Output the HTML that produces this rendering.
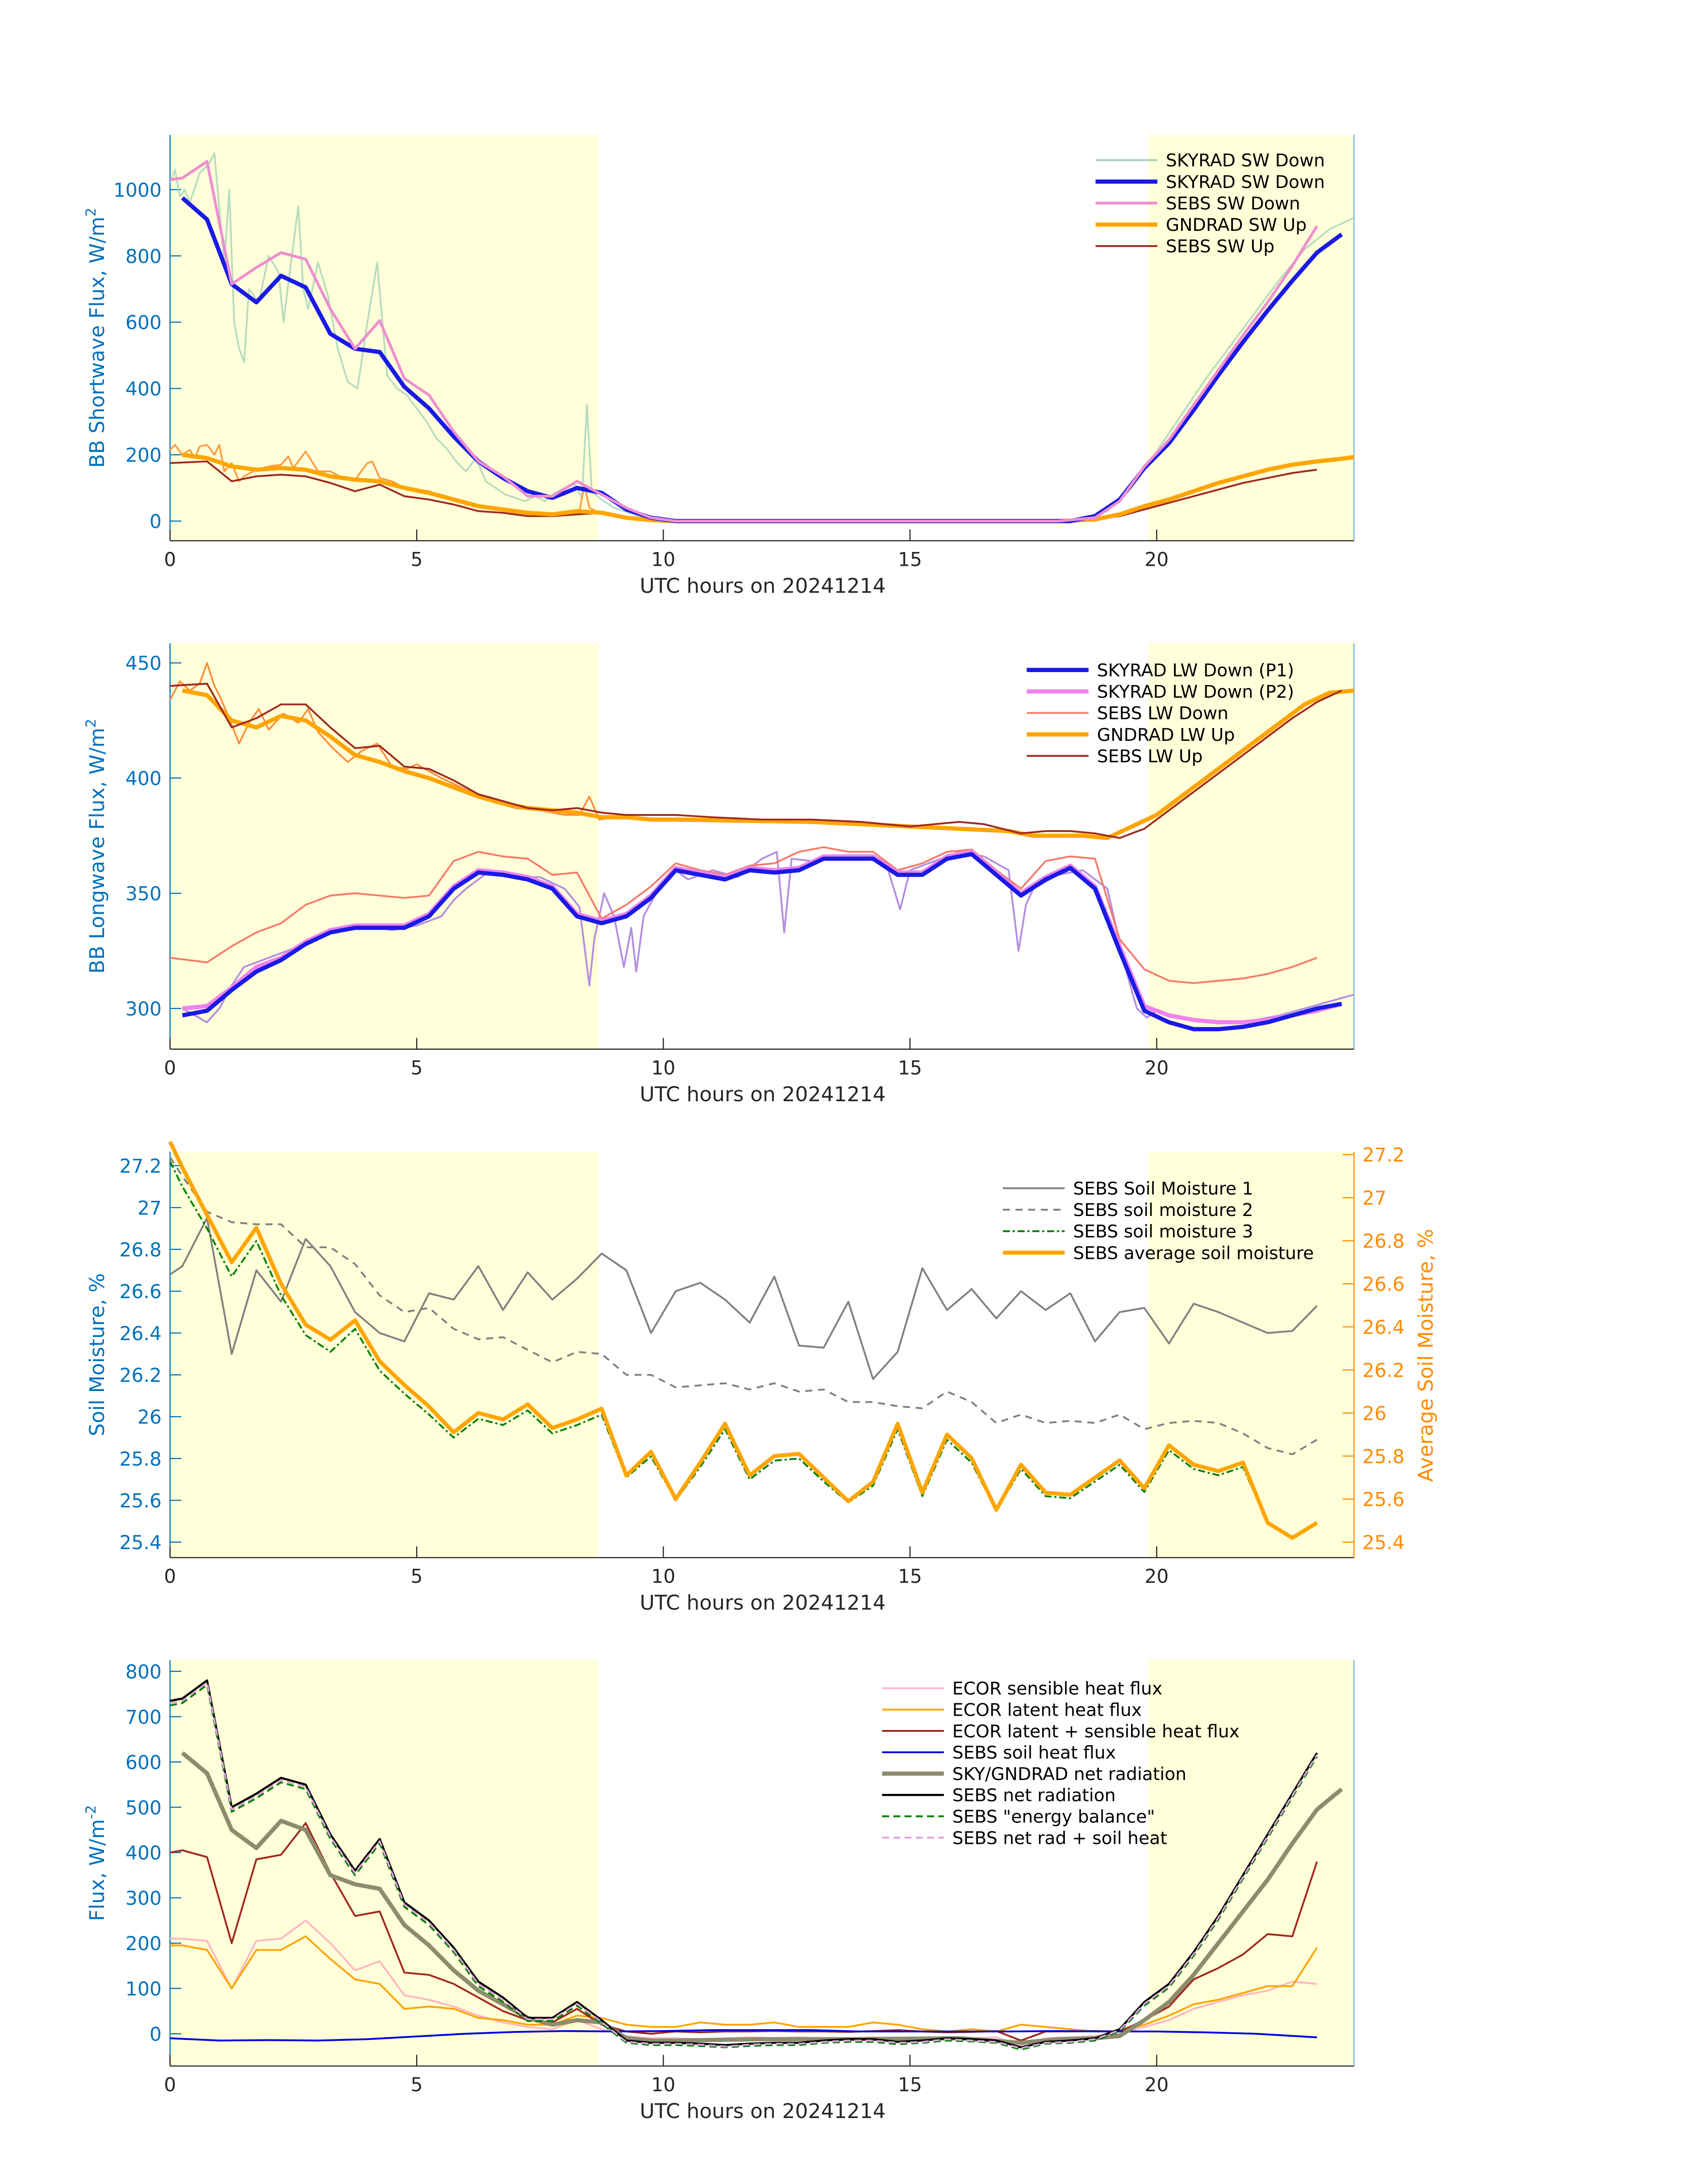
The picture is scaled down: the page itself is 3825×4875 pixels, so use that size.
<!DOCTYPE html>
<html><head><meta charset="utf-8">
<style>
html,body{margin:0;padding:0;background:#fff;}
svg{display:block;font-family:"DejaVu Sans","Liberation Sans",sans-serif;}
</style></head>
<body>
<svg id="fig" width="3825" height="4875" viewBox="0 0 1216 1550" xmlns="http://www.w3.org/2000/svg"></svg>
<script>
// ---------- Panel 1 data (shortwave) ----------
const swT = [0.25,0.75,1.25,1.75,2.25,2.75,3.25,3.75,4.25,4.75,5.25,5.75,6.25,6.75,7.25,7.75,8.25,8.75,9.25,9.75,10.25,11.25,12.25,13.25,14.25,15.25,16.25,17.25,18.25,18.75,19.25,19.75,20.25,20.75,21.25,21.75,22.25,22.75,23.25,23.75];
const skySwDown = [975,910,715,660,740,705,565,520,510,405,340,255,180,130,90,70,100,85,35,10,0,0,0,0,0,0,0,0,0,15,65,160,235,335,440,540,635,725,810,865];
const sebsSwDownT = [0,0.25,0.75,1.25,1.75,2.25,2.75,3.25,3.75,4.25,4.75,5.25,5.75,6.25,6.75,7.25,7.75,8.25,8.75,9.25,9.75,10.25,12,14,16,18,18.75,19.25,19.75,20.25,20.75,21.25,21.75,22.25,22.75,23.25];
const sebsSwDown = [1030,1035,1085,715,765,810,790,640,520,605,430,380,270,180,135,75,75,120,80,40,10,0,0,0,0,0,10,60,165,245,350,455,560,660,770,890];
const gndSwUpT = [0.25,0.75,1.25,1.75,2.25,2.75,3.25,3.75,4.25,4.75,5.25,5.75,6.25,6.75,7.25,7.75,8.25,8.75,9.25,9.75,10.25,12,14,16,18,18.75,19.25,19.75,20.25,20.75,21.25,21.75,22.25,22.75,23.25,23.75,24];
const gndSwUp = [200,190,165,155,160,155,135,125,120,100,85,65,45,35,25,20,30,25,10,3,0,0,0,0,0,5,20,45,65,90,115,135,155,170,180,188,193];
const sebsSwUpT = [0,0.75,1.25,1.75,2.25,2.75,3.25,3.75,4.25,4.75,5.25,5.75,6.25,6.75,7.25,7.75,8.25,8.75,9.25,9.75,10.25,12,14,16,18,18.75,19.25,19.75,20.25,20.75,21.25,21.75,22.25,22.75,23.25];
const sebsSwUp = [175,180,120,135,140,135,115,90,110,75,65,50,30,25,15,15,20,25,10,3,0,0,0,0,0,5,15,35,55,75,95,115,130,145,155];
const skySwFineT = [0,0.1,0.2,0.3,0.4,0.6,0.8,0.9,1.0,1.1,1.2,1.3,1.4,1.5,1.6,1.8,2.0,2.2,2.3,2.4,2.6,2.7,2.8,3.0,3.2,3.4,3.6,3.8,4.0,4.2,4.4,4.6,4.8,5.0,5.2,5.4,5.6,5.8,6.0,6.2,6.4,6.6,6.8,7.0,7.2,7.4,7.6,7.8,8.0,8.2,8.35,8.45,8.55,8.7,9.0,9.5,10,12,14,16,18,18.5,19,19.5,20,20.5,21,21.5,22,22.5,23,23.5,24];
const skySwFine = [1020,1060,980,1000,960,1050,1080,1110,940,780,1000,600,520,480,700,660,800,750,600,720,950,700,640,780,680,520,420,400,600,780,440,400,380,340,300,250,220,180,150,190,120,100,80,70,60,75,60,85,100,110,70,350,90,70,40,15,2,0,0,0,0,5,30,100,210,320,430,530,630,730,820,880,915];
const gndSwFineT = [0,0.1,0.25,0.4,0.5,0.6,0.75,0.9,1.0,1.1,1.25,1.4,1.5,1.75,2.0,2.25,2.4,2.5,2.75,3.0,3.25,3.5,3.75,4.0,4.1,4.25,4.5,4.75,5.0,5.25,5.5,5.75,6.0,6.5,7.0,7.5,8.0,8.3,8.4,8.5,8.7,9.0,9.5,10];
const gndSwFine = [215,230,200,215,190,225,230,200,230,150,175,120,135,155,165,170,195,160,210,150,150,130,125,175,180,130,120,100,95,90,75,65,50,40,25,20,22,30,110,40,25,15,5,0];

// ---------- Panel 2 data (longwave) ----------
const lwT = [0.25,0.75,1.25,1.75,2.25,2.75,3.25,3.75,4.25,4.75,5.25,5.75,6.25,6.75,7.25,7.75,8.25,8.75,9.25,9.75,10.25,10.75,11.25,11.75,12.25,12.75,13.25,13.75,14.25,14.75,15.25,15.75,16.25,16.75,17.25,17.75,18.25,18.75,19.25,19.75,20.25,20.75,21.25,21.75,22.25,22.75,23.25,23.75];
const skyLwP1 = [297,299,308,316,321,328,333,335,335,335,340,352,359,358,356,352,340,337,340,348,360,358,356,360,359,360,365,365,365,358,358,365,367,358,349,356,361,352,325,299,294,291,291,292,294,297,300,302];
const skyLwP2 = [300,301,309,318,322,329,334,336,336,336,341,353,360,359,357,353,341,338,341,349,361,359,357,361,360,361,366,366,366,359,359,366,368,359,350,357,362,353,327,301,297,295,294,294,295,297,299,302];
const sebsLwDownT = [0,0.75,1.25,1.75,2.25,2.75,3.25,3.75,4.25,4.75,5.25,5.75,6.25,6.75,7.25,7.75,8.25,8.75,9.25,9.75,10.25,10.75,11.25,11.75,12.25,12.75,13.25,13.75,14.25,14.75,15.25,15.75,16.25,16.75,17.25,17.75,18.25,18.75,19.25,19.75,20.25,20.75,21.25,21.75,22.25,22.75,23.25];
const sebsLwDown = [322,320,327,333,337,345,349,350,349,348,349,364,368,366,365,358,359,339,345,353,363,360,358,362,363,368,370,368,368,360,363,368,369,360,352,364,366,365,330,317,312,311,312,313,315,318,322];
const gndLwUpT = [0.25,0.75,1.25,1.75,2.25,2.75,3.25,3.75,4.25,4.75,5.25,5.75,6.25,6.75,7.25,7.75,8.25,8.75,9.25,9.75,10.25,13,15,16,17,17.5,18,18.5,19,19.5,20,20.5,21,21.5,22,22.5,23,23.5,24];
const gndLwUp = [438,436,425,422,427,425,418,410,407,403,400,396,392,389,387,386,385,383,383,382,382,381,379,378,377,375,375,375,374,379,384,392,400,408,416,424,432,437,438];
const sebsLwUpT = [0,0.75,1.25,1.75,2.25,2.75,3.25,3.75,4.25,4.75,5.25,5.75,6.25,6.75,7.25,7.75,8.25,8.75,9.25,9.75,10.25,11,12,13,14,15,16,16.5,17.25,17.75,18.25,18.75,19.25,19.75,20.25,20.75,21.25,21.75,22.25,22.75,23.25,23.75];
const sebsLwUp = [440,441,422,426,432,432,422,413,414,405,404,399,393,390,387,386,387,385,384,384,384,383,382,382,381,379,381,380,376,377,377,376,374,378,386,394,402,410,418,426,433,438];
const lwFineT = [0.25,0.5,0.75,1.0,1.25,1.5,1.75,2.0,2.5,3.0,3.5,4.0,4.5,5.0,5.5,5.75,6.0,6.5,7.0,7.5,8.0,8.3,8.5,8.6,8.8,9.0,9.2,9.35,9.45,9.6,9.8,10.0,10.25,10.5,11.0,11.5,12.0,12.3,12.45,12.6,13.0,13.5,14.0,14.5,14.8,15.0,15.5,16.0,16.5,17.0,17.2,17.35,17.5,18.0,18.5,19.0,19.4,19.6,19.8,20.0,20.5,21,21.5,22,22.5,23,23.5,24];
const lwFine = [300,297,294,300,310,318,320,322,326,332,335,336,334,336,340,347,352,360,357,357,352,344,310,330,350,340,318,335,316,340,348,355,360,356,360,357,365,368,333,365,364,366,365,364,343,360,364,368,366,360,325,345,352,358,360,352,315,300,296,299,296,294,294,295,297,300,303,306];
const lwUpFineT = [0,0.2,0.4,0.6,0.75,0.9,1.0,1.2,1.4,1.6,1.8,2.0,2.3,2.6,2.8,3.0,3.3,3.6,3.9,4.2,4.5,4.8,5.0,5.5,6,6.5,7,7.5,8,8.3,8.5,8.7,9.0];
const lwUpFine = [434,442,438,441,450,440,436,426,415,424,430,421,428,424,430,420,413,407,412,415,405,404,406,400,395,390,387,386,384,384,392,382,383];

// ---------- Panel 3 data (soil moisture) ----------
const smT = [0,0.25,0.75,1.25,1.75,2.25,2.75,3.25,3.75,4.25,4.75,5.25,5.75,6.25,6.75,7.25,7.75,8.25,8.75,9.25,9.75,10.25,10.75,11.25,11.75,12.25,12.75,13.25,13.75,14.25,14.75,15.25,15.75,16.25,16.75,17.25,17.75,18.25,18.75,19.25,19.75,20.25,20.75,21.25,21.75,22.25,22.75,23.25];
const sm1 = [26.68,26.72,26.95,26.3,26.7,26.55,26.85,26.72,26.5,26.4,26.36,26.59,26.56,26.72,26.51,26.69,26.56,26.66,26.78,26.7,26.4,26.6,26.64,26.56,26.45,26.67,26.34,26.33,26.55,26.18,26.31,26.71,26.51,26.61,26.47,26.6,26.51,26.59,26.36,26.5,26.52,26.35,26.54,26.5,26.45,26.4,26.41,26.53];
const sm2 = [27.24,27.15,26.98,26.93,26.92,26.92,26.81,26.81,26.73,26.58,26.5,26.52,26.42,26.37,26.38,26.32,26.26,26.31,26.3,26.2,26.2,26.14,26.15,26.16,26.13,26.16,26.12,26.13,26.07,26.07,26.05,26.04,26.12,26.07,25.97,26.01,25.97,25.98,25.97,26.01,25.94,25.97,25.98,25.97,25.92,25.85,25.82,25.89];
const sm3 = [27.22,27.1,26.9,26.67,26.84,26.58,26.39,26.31,26.42,26.22,26.11,26.01,25.9,25.99,25.96,26.03,25.92,25.96,26.01,25.71,25.81,25.6,25.76,25.94,25.7,25.79,25.8,25.69,25.59,25.67,25.94,25.62,25.89,25.78,25.55,25.75,25.62,25.61,25.69,25.77,25.64,25.84,25.75,25.72,25.76,25.49,25.42,25.49];
const smAvg = [27.26,27.14,26.92,26.7,26.86,26.6,26.41,26.34,26.43,26.24,26.13,26.03,25.91,26.0,25.97,26.04,25.93,25.97,26.02,25.71,25.82,25.6,25.77,25.95,25.71,25.8,25.81,25.7,25.59,25.68,25.95,25.63,25.9,25.79,25.55,25.76,25.63,25.62,25.7,25.78,25.65,25.85,25.76,25.73,25.77,25.49,25.42,25.49];

// ---------- Panel 4 data (fluxes) ----------
const fT = [0,0.25,0.75,1.25,1.75,2.25,2.75,3.25,3.75,4.25,4.75,5.25,5.75,6.25,6.75,7.25,7.75,8.25,8.75,9.25,9.75,10.25,10.75,11.25,11.75,12.25,12.75,13.25,13.75,14.25,14.75,15.25,15.75,16.25,16.75,17.25,17.75,18.25,18.75,19.25,19.75,20.25,20.75,21.25,21.75,22.25,22.75,23.25];
const sebsNet = [735,740,780,500,530,565,550,440,360,430,290,250,190,115,80,35,35,70,30,-15,-20,-20,-22,-25,-22,-20,-20,-15,-12,-12,-18,-15,-10,-12,-15,-30,-18,-15,-10,10,70,110,180,260,350,440,530,620];
const sebsEB = [725,730,770,490,520,555,540,430,350,420,280,240,180,105,70,28,28,62,22,-20,-25,-25,-27,-30,-27,-25,-25,-20,-18,-18,-23,-20,-15,-17,-20,-35,-22,-20,-15,5,62,102,172,252,342,432,522,612];
const sebsNetSoil = [730,735,775,495,525,560,545,435,355,425,285,245,185,110,75,32,32,66,26,-18,-22,-22,-24,-28,-24,-22,-22,-18,-15,-15,-20,-18,-12,-15,-18,-32,-20,-18,-12,8,66,106,176,256,346,436,526,616];
const skyNetT = [0.25,0.75,1.25,1.75,2.25,2.75,3.25,3.75,4.25,4.75,5.25,5.75,6.25,6.75,7.25,7.75,8.25,8.75,9.25,9.75,10.25,12,14,16,17.25,18,18.75,19.25,19.75,20.25,20.75,21.25,21.75,22.25,22.75,23.25,23.75];
const skyNet = [620,575,450,410,470,450,350,330,320,240,195,140,95,65,35,20,30,25,-10,-15,-15,-12,-12,-10,-20,-12,-10,-5,30,70,130,200,270,340,420,495,540];
const ecorSum = [400,405,390,200,385,395,465,355,260,270,135,130,110,80,50,30,25,55,20,5,0,5,3,5,5,6,5,5,4,6,8,5,3,4,6,-15,5,5,6,5,30,60,120,145,175,220,215,380];
const ecorSens = [210,210,205,100,205,210,250,200,140,160,85,75,60,40,25,15,10,30,10,-5,-10,-10,-12,-10,-8,-10,-8,-10,-10,-8,-10,-10,-12,-10,-8,-25,-10,-8,-5,0,15,30,55,70,85,95,115,110];
const ecorLat = [195,195,185,100,185,185,215,165,120,110,55,60,55,35,30,20,20,40,35,20,15,15,25,20,20,25,15,15,15,25,20,10,5,10,5,20,15,10,5,5,20,40,65,75,90,105,105,190];
const soilHeatT = [0,1,2,3,4,5,6,7,8,9,10,11,12,13,14,15,16,17,18,19,20,21,22,23.25];
const soilHeat = [-10,-15,-14,-15,-12,-6,0,4,6,5,6,8,8,8,5,5,5,5,6,5,5,3,0,-8];

// ---------- tick arrays ----------
const xTicks = [0,5,10,15,20];
const swTicks = [0,200,400,600,800,1000];
const lwTicks = [300,350,400,450];
const smTicks = [25.4,25.6,25.8,26,26.2,26.4,26.6,26.8,27,27.2];
const smTickLabels = ['25.4','25.6','25.8','26','26.2','26.4','26.6','26.8','27','27.2'];
const fluxTicks = [0,100,200,300,400,500,600,700,800];

const NS = 'http://www.w3.org/2000/svg';
const svg = document.getElementById('fig');
const X0 = 121, X1 = 964;
const xs = t => X0 + (X1 - X0) * t / 24;
const BLUE = '#0072BD';

function mk(tag, attrs, parent) {
  const e = document.createElementNS(NS, tag);
  for (const k in attrs) e.setAttribute(k, attrs[k]);
  (parent || svg).appendChild(e);
  return e;
}
function txt(s, attrs, parent) { const e = mk('text', attrs, parent); e.textContent = s; return e; }

function line(g, T, V, ys, style, name) {
  let d = '';
  for (let i = 0; i < T.length; i++) d += (i ? 'L' : 'M') + xs(T[i]).toFixed(2) + ',' + ys(V[i]).toFixed(2);
  const p = mk('path', Object.assign({ d: d, fill: 'none', 'stroke-linejoin': 'round' }, style), g);
  
  
  return p;
}

function panel(name, top, bot, ys, yTicks, yLabels, yTitle, rightColor) {
  const g = mk('g', {});
  
  
  const sh1 = mk('rect', { x: xs(0), y: top, width: xs(8.68) - xs(0), height: bot - top, fill: '#FFFFD9' }, g);
  
  
  const sh2 = mk('rect', { x: xs(19.83), y: top, width: xs(24) - xs(19.83), height: bot - top, fill: '#FFFFD9' }, g);
  
  
  // y axis
  const ya = mk('line', { x1: X0, y1: top, x2: X0, y2: bot, stroke: BLUE, 'stroke-width': 0.8 }, g);
  
  
  const ra = mk('line', { x1: X1, y1: top, x2: X1, y2: bot, stroke: rightColor || '#6FB3DE', 'stroke-width': 0.8 }, g);
  
  
  const xa = mk('line', { x1: X0, y1: bot, x2: X1, y2: bot, stroke: '#262626', 'stroke-width': 0.8 }, g);
  
  
  yTicks.forEach((v, i) => {
    const y = ys(v);
    mk('line', { x1: X0, y1: y, x2: X0 + 8, y2: y, stroke: BLUE, 'stroke-width': 0.8 }, g);
    const t = txt(yLabels[i], { x: X0 - 6, y: y + 5, 'text-anchor': 'end', 'font-size': 13.5, fill: BLUE }, g);
    
    
  });
  xTicks.forEach(v => {
    const x = xs(v);
    mk('line', { x1: x, y1: bot, x2: x, y2: bot - 8, stroke: '#262626', 'stroke-width': 0.8 }, g);
    const t = txt(String(v), { x: x, y: bot + 18, 'text-anchor': 'middle', 'font-size': 13.5, fill: '#262626' }, g);
    
    
  });
  const xt = txt('UTC hours on 20241214', { x: 543, y: bot + 37, 'text-anchor': 'middle', 'font-size': 14.5, fill: '#262626' }, g);
  
  
  const cy = (top + bot) / 2;
  const yt = mk('text', { x: 0, y: 0, transform: `translate(74,${cy}) rotate(-90)`, 'text-anchor': 'middle', 'font-size': 14.5, fill: BLUE }, g);
  yt.innerHTML = yTitle;
  
  
  return g;
}

function legend(g, x, y, items, dy) {
  const lg = mk('g', {}, g);
  
  
  items.forEach((it, i) => {
    const yy = y + i * dy;
    const ln = mk('line', Object.assign({ x1: x, y1: yy, x2: x + 44, y2: yy }, it.style), lg);
    
    
    const t = txt(it.label, { x: x + 50, y: yy + 4.5, 'font-size': 12.5, fill: '#000' }, lg);
    
    
  });
}

// ===== Panel 1 =====
{
  const ys = v => 371 - v * 0.236;
  const g = panel('shortwave-panel', 96, 385, ys, swTicks, swTicks.map(String), 'BB Shortwave Flux, W/m<tspan dy="-6" font-size="10">2</tspan>');
  line(g, skySwFine, [], ys, {}, 'x'); g.lastChild.remove();
  line(g, skySwFineT, skySwFine, ys, { stroke: '#A8D5BA', 'stroke-width': 1.2, opacity: 0.85 }, 'skyrad-sw-down-1min');
  line(g, gndSwFineT, gndSwFine, ys, { stroke: '#FF9A3C', 'stroke-width': 1.2 }, 'gndrad-sw-up-1min');
  line(g, sebsSwUpT, sebsSwUp, ys, { stroke: '#A0281E', 'stroke-width': 1.3 }, 'sebs-sw-up');
  line(g, gndSwUpT, gndSwUp, ys, { stroke: '#FFA500', 'stroke-width': 3 }, 'gndrad-sw-up');
  line(g, swT, skySwDown, ys, { stroke: '#1A1AE6', 'stroke-width': 3 }, 'skyrad-sw-down');
  line(g, sebsSwDownT, sebsSwDown, ys, { stroke: '#EE8FD0', 'stroke-width': 2 }, 'sebs-sw-down');
  legend(g, 780, 114, [
    { label: 'SKYRAD SW Down', style: { stroke: '#A8D5BA', 'stroke-width': 1.5 } },
    { label: 'SKYRAD SW Down', style: { stroke: '#1A1AE6', 'stroke-width': 3 } },
    { label: 'SEBS SW Down', style: { stroke: '#EE8FD0', 'stroke-width': 2 } },
    { label: 'GNDRAD SW Up', style: { stroke: '#FFA500', 'stroke-width': 3 } },
    { label: 'SEBS SW Up', style: { stroke: '#A0281E', 'stroke-width': 1.3 } }
  ], 15.3);
}
// ===== Panel 2 =====
{
  const ys = v => 718 - (v - 300) * 1.64;
  const g = panel('longwave-panel', 458, 747, ys, lwTicks, lwTicks.map(String), 'BB Longwave Flux, W/m<tspan dy="-6" font-size="10">2</tspan>');
  line(g, lwFineT, lwFine, ys, { stroke: '#B48FE0', 'stroke-width': 1.3 }, 'skyrad-lw-down-1min');
  line(g, lwUpFineT, lwUpFine, ys, { stroke: '#FF8C3A', 'stroke-width': 1.2 }, 'gndrad-lw-up-1min');
  line(g, sebsLwDownT, sebsLwDown, ys, { stroke: '#F77B6A', 'stroke-width': 1.3 }, 'sebs-lw-down');
  line(g, gndLwUpT, gndLwUp, ys, { stroke: '#FFA500', 'stroke-width': 3 }, 'gndrad-lw-up');
  line(g, sebsLwUpT, sebsLwUp, ys, { stroke: '#A0281E', 'stroke-width': 1.3 }, 'sebs-lw-up');
  line(g, lwT, skyLwP2, ys, { stroke: '#EE82EE', 'stroke-width': 3 }, 'skyrad-lw-down-p2');
  line(g, lwT, skyLwP1, ys, { stroke: '#1A1AE6', 'stroke-width': 3 }, 'skyrad-lw-down-p1');
  legend(g, 731, 477, [
    { label: 'SKYRAD LW Down (P1)', style: { stroke: '#1A1AE6', 'stroke-width': 3 } },
    { label: 'SKYRAD LW Down (P2)', style: { stroke: '#EE82EE', 'stroke-width': 3 } },
    { label: 'SEBS LW Down', style: { stroke: '#F77B6A', 'stroke-width': 1.3 } },
    { label: 'GNDRAD LW Up', style: { stroke: '#FFA500', 'stroke-width': 3 } },
    { label: 'SEBS LW Up', style: { stroke: '#A0281E', 'stroke-width': 1.3 } }
  ], 15.3);
}
// ===== Panel 3 =====
{
  const ys = v => 1098 - (v - 25.4) * 148.9;
  const yr = v => 1098 - (v - 25.4) * 153.3;
  const ORG = '#FF8C00';
  const g = panel('soil-moisture-panel', 820, 1109, ys, smTicks, smTickLabels, 'Soil Moisture, %', ORG);
  smTicks.forEach((v, i) => {
    const y = yr(v);
    mk('line', { x1: X1 - 8, y1: y, x2: X1, y2: y, stroke: ORG, 'stroke-width': 0.8 }, g);
    const t = txt(smTickLabels[i], { x: X1 + 6, y: y + 5, 'font-size': 13.5, fill: ORG }, g);
    
    
  });
  const rt = txt('Average Soil Moisture, %', { x: 0, y: 0, transform: 'translate(1020,965) rotate(-90)', 'text-anchor': 'middle', 'font-size': 14.5, fill: ORG }, g);
  
  
  line(g, smT, sm1, ys, { stroke: '#808080', 'stroke-width': 1.3 }, 'sebs-soil-moisture-1');
  line(g, smT, sm2, ys, { stroke: '#808080', 'stroke-width': 1.3, 'stroke-dasharray': '5,4' }, 'sebs-soil-moisture-2');
  line(g, smT, sm3, ys, { stroke: '#008000', 'stroke-width': 1.3, 'stroke-dasharray': '5,2,1.5,2' }, 'sebs-soil-moisture-3');
  line(g, smT, smAvg, yr, { stroke: '#FFA500', 'stroke-width': 2.8 }, 'sebs-average-soil-moisture');
  legend(g, 714, 846, [
    { label: 'SEBS Soil Moisture 1', style: { stroke: '#808080', 'stroke-width': 1.3 } },
    { label: 'SEBS soil moisture 2', style: { stroke: '#808080', 'stroke-width': 1.3, 'stroke-dasharray': '5,4' } },
    { label: 'SEBS soil moisture 3', style: { stroke: '#008000', 'stroke-width': 1.3, 'stroke-dasharray': '5,2,1.5,2' } },
    { label: 'SEBS average soil moisture', style: { stroke: '#FFA500', 'stroke-width': 2.8 } }
  ], 15.3);
}
// ===== Panel 4 =====
{
  const ys = v => 1448 - v * 0.3225;
  const g = panel('flux-panel', 1182, 1471, ys, fluxTicks, fluxTicks.map(String), 'Flux, W/m<tspan dy="-6" font-size="10">-2</tspan>');
  line(g, fT, ecorSens, ys, { stroke: '#FFB6C1', 'stroke-width': 1.3 }, 'ecor-sensible-heat-flux');
  line(g, fT, ecorLat, ys, { stroke: '#FFA500', 'stroke-width': 1.3 }, 'ecor-latent-heat-flux');
  line(g, fT, ecorSum, ys, { stroke: '#A0281E', 'stroke-width': 1.3 }, 'ecor-latent-plus-sensible');
  line(g, soilHeatT, soilHeat, ys, { stroke: '#0000E0', 'stroke-width': 1.3 }, 'sebs-soil-heat-flux');
  line(g, skyNetT, skyNet, ys, { stroke: '#8C8C6E', 'stroke-width': 3 }, 'sky-gndrad-net-radiation');
  line(g, fT, sebsNet, ys, { stroke: '#000', 'stroke-width': 1.5 }, 'sebs-net-radiation');
  line(g, fT, sebsEB, ys, { stroke: '#008000', 'stroke-width': 1.3, 'stroke-dasharray': '5,3' }, 'sebs-energy-balance');
  line(g, fT, sebsNetSoil, ys, { stroke: '#DDA0DD', 'stroke-width': 1.3, 'stroke-dasharray': '5,3' }, 'sebs-net-rad-plus-soil-heat');
  legend(g, 628, 1202, [
    { label: 'ECOR sensible heat flux', style: { stroke: '#FFB6C1', 'stroke-width': 1.3 } },
    { label: 'ECOR latent heat flux', style: { stroke: '#FFA500', 'stroke-width': 1.3 } },
    { label: 'ECOR latent + sensible heat flux', style: { stroke: '#A0281E', 'stroke-width': 1.3 } },
    { label: 'SEBS soil heat flux', style: { stroke: '#0000E0', 'stroke-width': 1.3 } },
    { label: 'SKY/GNDRAD net radiation', style: { stroke: '#8C8C6E', 'stroke-width': 3 } },
    { label: 'SEBS net radiation', style: { stroke: '#000', 'stroke-width': 1.5 } },
    { label: 'SEBS "energy balance"', style: { stroke: '#008000', 'stroke-width': 1.3, 'stroke-dasharray': '5,3' } },
    { label: 'SEBS net rad + soil heat', style: { stroke: '#DDA0DD', 'stroke-width': 1.3, 'stroke-dasharray': '5,3' } }
  ], 15.2);
}
</script>
</body></html>
